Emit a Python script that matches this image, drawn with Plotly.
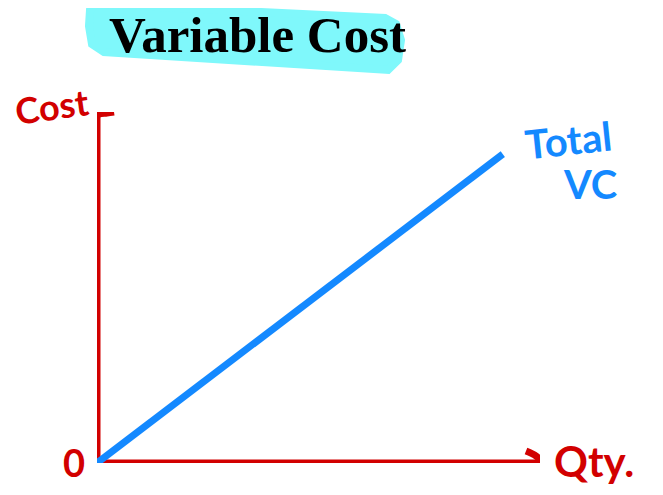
import plotly.graph_objects as go

# ---- data ----
qty = [0, 9.16]          # Total VC line, quantity
total_vc = [0, 8.8]      # Total VC line, cost
x_axis_x = [0, 10]
x_axis_y = [0, 0]
y_axis_x = [0, 0]
y_axis_y = [0, 10]
title_text = "Variable Cost"

RED = "#D20000"
BLUE = "#1489FF"

OFF = 8  # page body margin in the browser
W, H = 663, 495
# plot area in screen pixels: x 97..540, y 112..463
SX0, SX1, SY0, SY1 = 97, 540, 112, 463
L = SX0 - OFF
R = W - (SX1 - OFF)
T = SY0 - OFF
B = H - (SY1 - OFF)
pw, ph = SX1 - SX0, SY1 - SY0

def px2d(px, py):
    return (px - SX0) / pw * 10, (SY1 - py) / ph * 10

def px2paper(px, py):
    return (px - SX0) / pw, (SY1 - py) / ph

fig = go.Figure()

LW = 7
# axes
fig.add_trace(go.Scatter(x=x_axis_x, y=x_axis_y, mode="lines",
                         line=dict(color=RED, width=LW), cliponaxis=False, hoverinfo="skip"))
fig.add_trace(go.Scatter(x=y_axis_x, y=y_axis_y, mode="lines",
                         line=dict(color=RED, width=LW), cliponaxis=False, hoverinfo="skip"))
# arrowheads (hand-drawn style)
xa = [px2d(*p) for p in [(526, 451), (536, 456), (541, 462), (537, 467), (532, 471)]]
fig.add_trace(go.Scatter(x=[p[0] for p in xa], y=[p[1] for p in xa], mode="lines",
                         line=dict(color=RED, width=LW, shape="spline"), cliponaxis=False, hoverinfo="skip"))
ya = [px2d(*p) for p in [(89, 125), (91, 117), (99, 114), (107, 113), (114, 112)]]
fig.add_trace(go.Scatter(x=[p[0] for p in ya], y=[p[1] for p in ya], mode="lines",
                         line=dict(color=RED, width=LW, shape="spline"), cliponaxis=False, hoverinfo="skip"))

# Total VC line
fig.add_trace(go.Scatter(x=qty, y=total_vc, mode="lines",
                         line=dict(color=BLUE, width=LW), cliponaxis=False, hoverinfo="skip"))

# highlight behind the title
hl = [(96, 4), (385, 18), (396, 24), (401, 40), (398, 60), (388, 70), (104, 52), (92, 44), (89, 26), (90, 10)]
pts = [px2paper(*p) for p in hl]
path = "M " + " L ".join(f"{x:.4f},{y:.4f}" for x, y in pts) + " Z"
fig.add_shape(type="path", path=path, xref="paper", yref="paper",
              fillcolor="#7FF8FB", line=dict(color="#7FF8FB", width=8), layer="below")

def ann(text, px, py, color, size, family="Lato", angle=0, bold=False):
    x, y = px2paper(px, py)
    fig.add_annotation(x=x, y=y, xref="paper", yref="paper", text=(f"<b>{text}</b>" if bold else text),
                       showarrow=False, font=dict(color=color, size=size, family=family),
                       textangle=angle, xanchor="center", yanchor="middle")

ann(title_text, 257, 35, "#000000", 51, family="Liberation Serif", bold=True)
ann("Cost", 52, 106, RED, 36, family="Lato", angle=-8, bold=True)
ann("0", 74, 462, RED, 38, family="Lato", bold=True)
ann("Qty.", 594, 461, RED, 42, family="Lato", bold=True)
ann("Total", 568, 140, BLUE, 40, family="Lato", angle=-6, bold=True)
ann("VC", 590, 184, BLUE, 40, family="Lato", bold=True)

fig.update_layout(
    width=W, height=H,
    margin=dict(l=L, r=R, t=T, b=B),
    paper_bgcolor="white", plot_bgcolor="white",
    showlegend=False,
    xaxis=dict(range=[0, 10], visible=False, fixedrange=True),
    yaxis=dict(range=[0, 10], visible=False, fixedrange=True),
)

fig.write_html("out.html")
